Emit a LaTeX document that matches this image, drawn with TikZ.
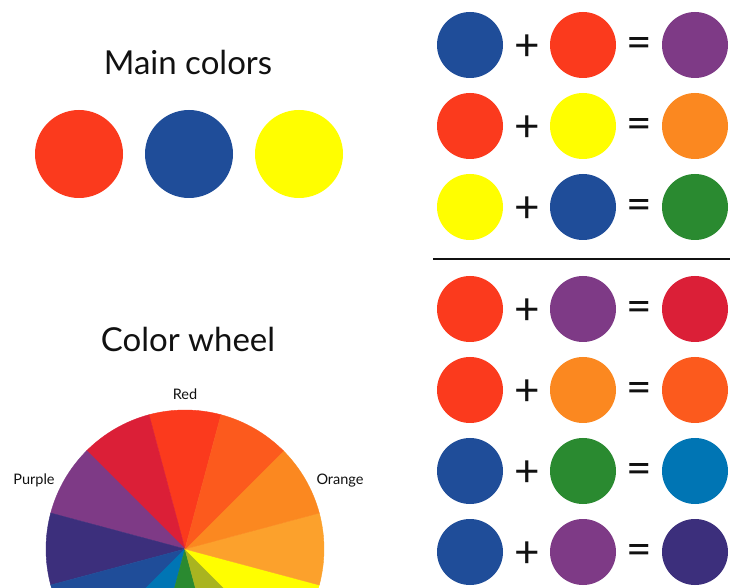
\documentclass[tikz,border=0pt]{standalone}
\usepackage{fontspec}
\setmainfont{Lato}
\usepackage{xcolor}
\usepackage{tikz}
\usetikzlibrary{positioning}

\definecolor{cred}{RGB}{251,58,29}
\definecolor{cblue}{RGB}{31,77,153}
\definecolor{cyellow}{RGB}{255,254,0}
\definecolor{cpurple}{RGB}{126,58,134}
\definecolor{corange}{RGB}{251,136,32}
\definecolor{cgreen}{RGB}{42,138,48}
\definecolor{ccrimson}{RGB}{219,31,55}
\definecolor{credorange}{RGB}{252,90,29}
\definecolor{cteal}{RGB}{0,117,180}
\definecolor{cindigo}{RGB}{60,47,124}
\definecolor{clightorange}{RGB}{252,161,44}
\definecolor{colive}{RGB}{169,180,32}
\definecolor{ink}{RGB}{17,17,17}

\begin{document}
\begin{tikzpicture}[
    x=1pt, y=-1pt,
    title/.style = {font=\fontsize{33}{40}\selectfont,text=ink,anchor=base},
    lbl/.style   = {font=\fontsize{14.5}{17}\selectfont,text=ink,anchor=base},
    big/.style   = {circle,minimum size=88pt,inner sep=0pt},
    dot/.style   = {circle,minimum size=66pt,inner sep=0pt},
    sym/.style   = {font=\fontsize{44}{48}\selectfont,text=ink,inner sep=0pt,yshift=-3pt}
  ]
  \clip (0,0) rectangle (732,588);
  \fill[white] (0,0) rectangle (732,588);

  % main colors
  \node[title] (T1) at (188,75) {Main colors};
  \foreach \i/\x/\col in {1/79/cred, 2/189/cblue, 3/299/cyellow} {
    \node[big,fill=\col] (M\i) at (\x,154) {};
  }

  % mixing rows
  \foreach \r/\y/\a/\b/\c in {1/45/cblue/cred/cpurple, 2/126/cred/cyellow/corange,
      3/207/cyellow/cblue/cgreen, 4/309/cred/cpurple/ccrimson, 5/390/cred/corange/credorange,
      6/471/cblue/cgreen/cteal, 7/552/cblue/cpurple/cindigo} {
    \node[dot,fill=\a] (A\r) at (470,\y) {};
    \node[dot,fill=\b] (B\r) at (583,\y) {};
    \node[dot,fill=\c] (C\r) at (695,\y) {};
    \node[sym] (P\r) at (527,\y) {+};
    \node[sym] (E\r) at (639,\y) {=};
  }
  \coordinate (L1) at (433,259);
  \coordinate (L2) at (730,259);
  \draw[line width=2.5pt,ink] (L1) -- (L2);

  % color wheel
  \node[title] (T2) at (188,352) {Color wheel};
  \coordinate (W) at (185,549);
  \foreach \k/\col in {0/cred, 1/ccrimson, 2/cpurple, 3/cindigo, 4/cblue, 5/cteal,
      6/cgreen, 7/colive, 8/cyellow, 9/clightorange, 10/corange, 11/credorange} {
    \pgfmathsetmacro{\ang}{-75-30*\k}
    \filldraw[fill=\col,draw=\col,line width=0.4pt]
      (W) -- +(\ang:139) arc[start angle=\ang,end angle=\ang-30,radius=139] -- cycle;
  }
  \node[lbl] (R) at (185,400) {Red};
  \node[lbl] (Pu) at (34,484) {Purple};
  \node[lbl] (O) at (340,484) {Orange};

\end{tikzpicture}
\end{document}
